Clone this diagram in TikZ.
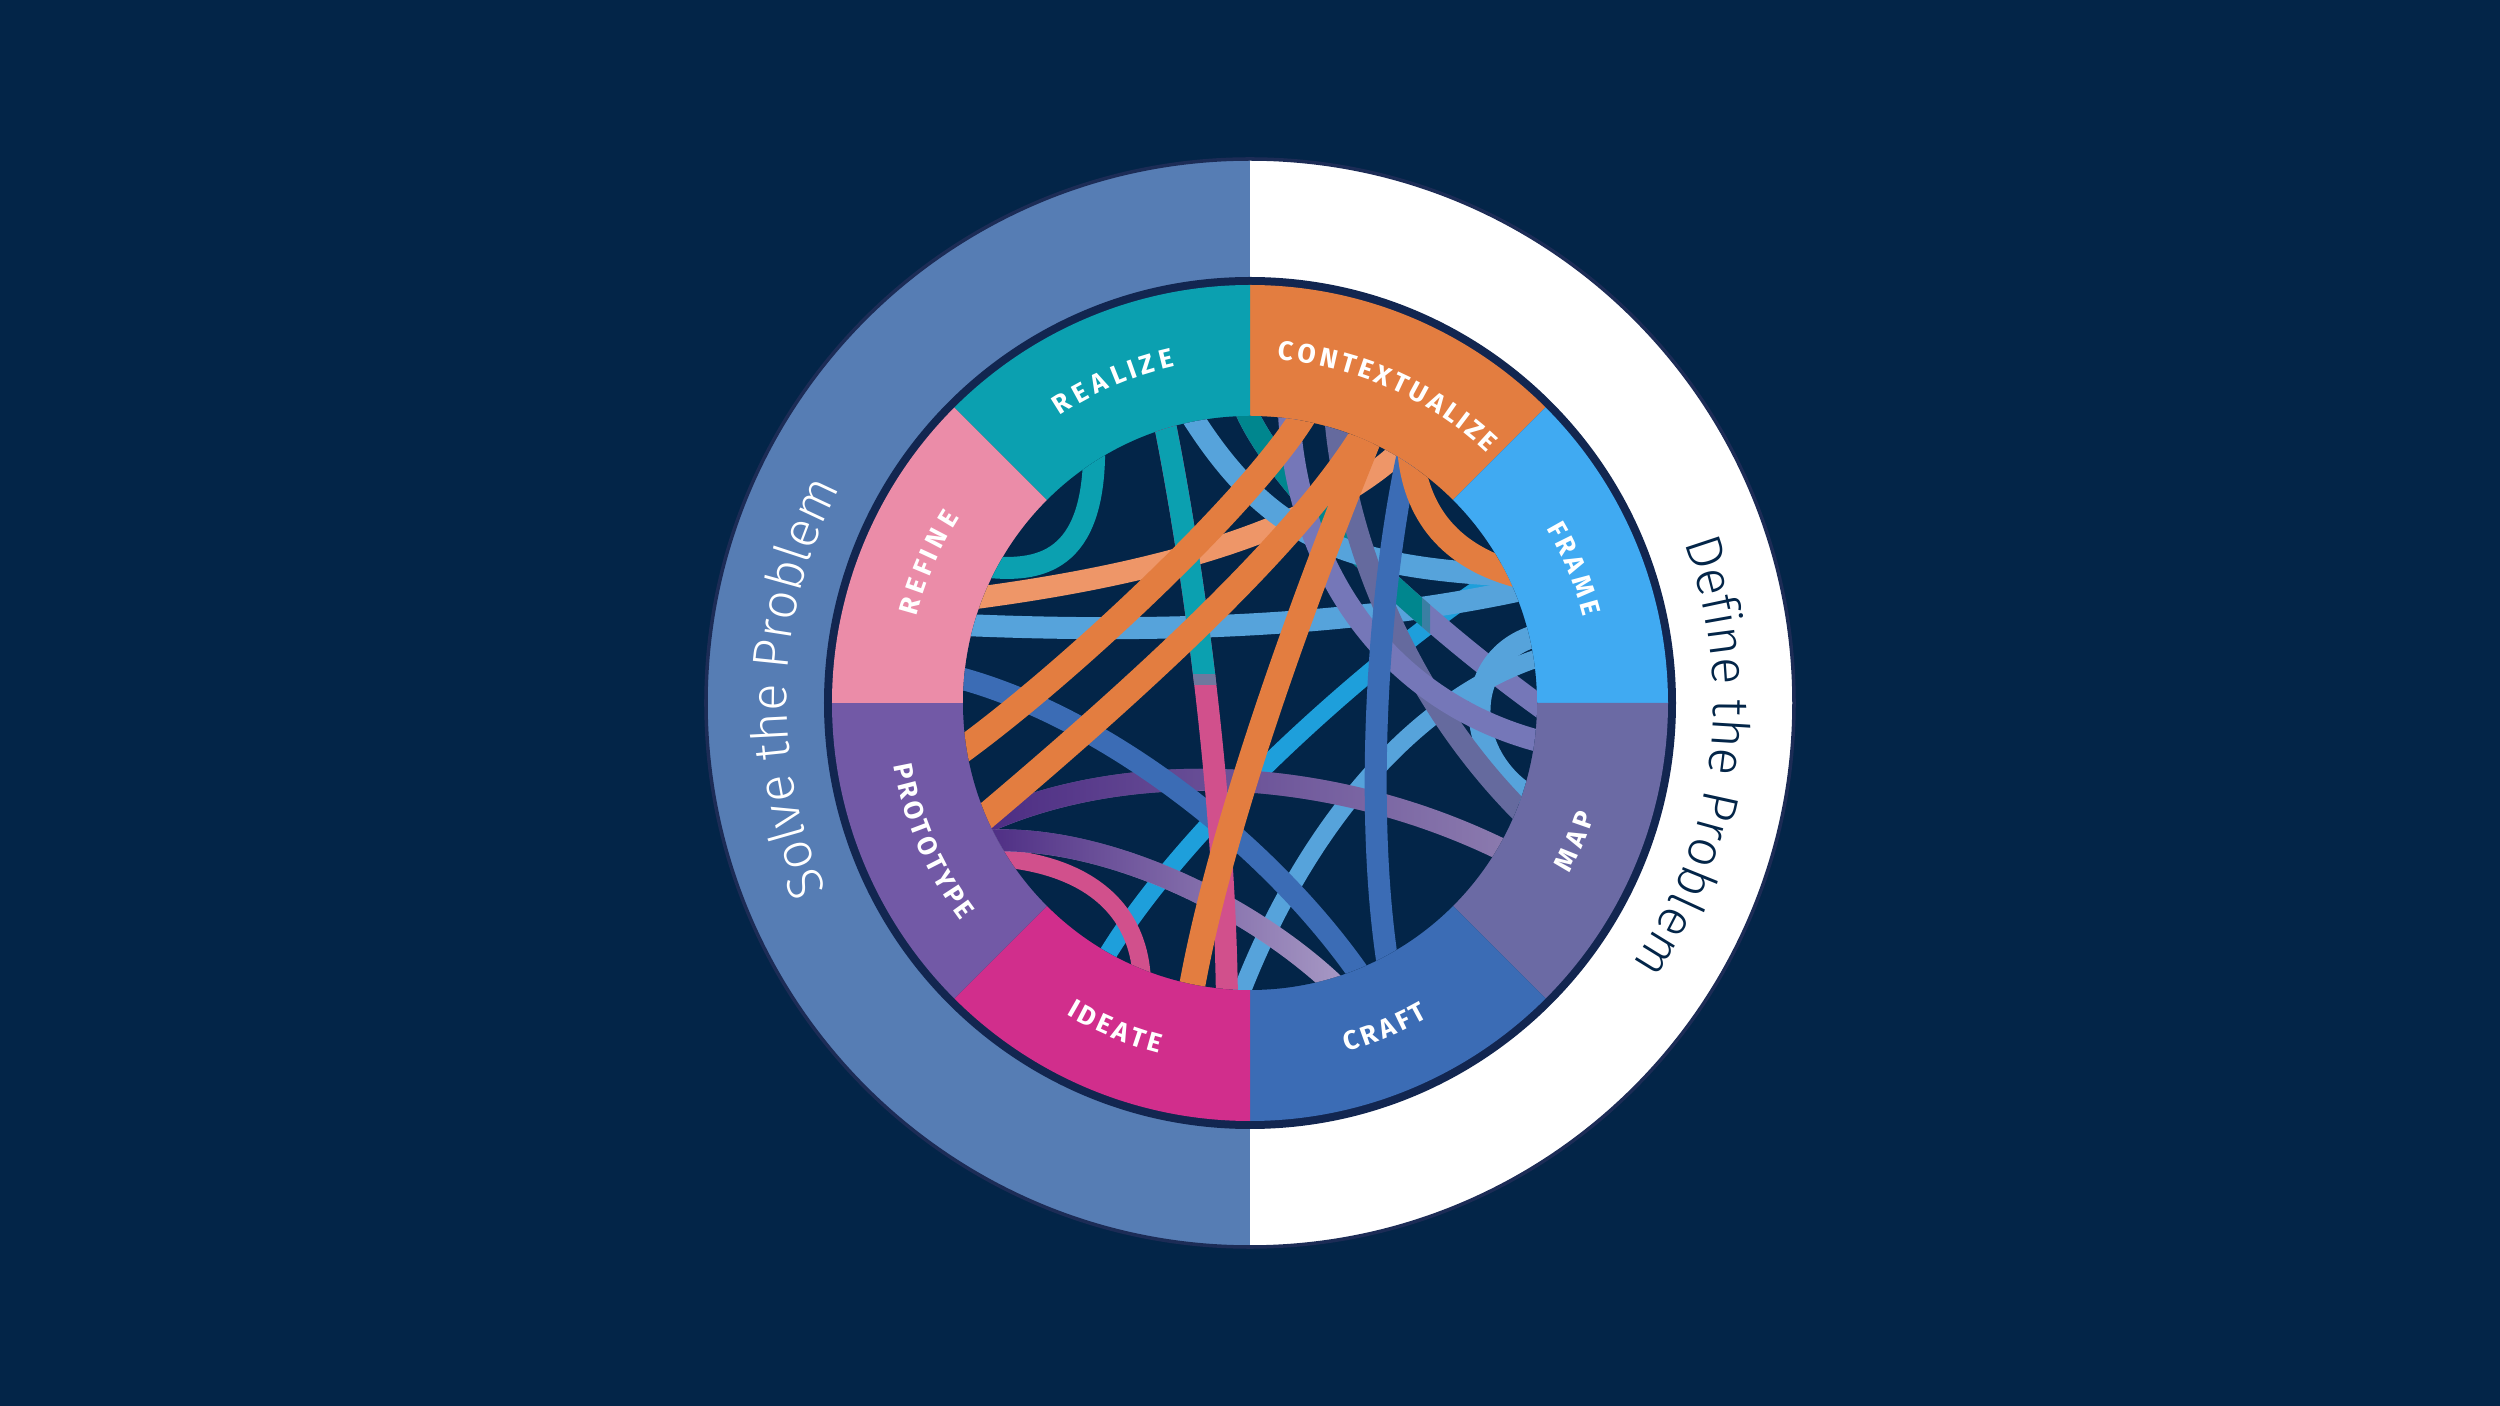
\documentclass[tikz,border=0pt]{standalone}
\usepackage{fontspec}
\usepackage{tikz}
\usetikzlibrary{decorations.text,fadings}
\IfFontExistsTF{Fira Sans Light}{\newfontfamily\ringfont{Fira Sans Light}}{\newfontfamily\ringfont{Fira Sans}}
\newfontfamily\segfont{Fira Sans}
\definecolor{navy}{RGB}{3,37,72}
\definecolor{rimnavy}{RGB}{18,38,80}
\definecolor{ringedge}{RGB}{28,44,86}
\definecolor{solveblue}{RGB}{86,125,180}
\definecolor{ctxorange}{RGB}{227,125,64}
\definecolor{framesky}{RGB}{64,170,242}
\definecolor{mapviolet}{RGB}{107,106,164}
\definecolor{craftblue}{RGB}{59,108,181}
\definecolor{ideatepink}{RGB}{209,46,140}
\definecolor{protopurple}{RGB}{114,89,166}
\definecolor{refinerose}{RGB}{235,140,168}
\definecolor{realizeteal}{RGB}{11,160,176}
\definecolor{salmon}{RGB}{238,150,104}
\definecolor{deepteal}{RGB}{0,134,142}
\definecolor{paleblue}{RGB}{86,163,219}
\definecolor{brightblue}{RGB}{30,159,219}
\definecolor{dusk}{RGB}{117,119,184}
\definecolor{slate}{RGB}{101,106,158}
\definecolor{rosepink}{RGB}{209,80,140}
\definecolor{plum}{RGB}{75,42,130}
\definecolor{lavender}{RGB}{141,125,176}
\definecolor{lilac}{RGB}{169,155,198}
\newcommand\tealpinkpath{(106.8:3) .. controls (-0.55,1.3) and (-0.25,-1.0) .. (265.6:3)}
\newcommand\tealduskpath{(91.4:3) .. controls (0.3,2.05) and (2.0,0.6) .. (-2:3)}
\newcommand\plumpath{(204.3:3) .. controls (-1.3,-0.55) and (0.8,-0.6) .. (-30.1:3)}
\newcommand\lilacpath{(207.4:3) .. controls (-1.5,-1.3) and (0.0,-2.0) .. (-72.7:3)}
\tikzset{
  ribbon/.style={draw=#1, line width=0.22cm},
  ribbon/.default={paleblue},
  thinribbon/.style={draw=#1, line width=0.18cm},
  fatribbon/.style={draw=#1, line width=0.26cm},
  fatribbon/.default={ctxorange},
  seglabel/.style={font=\segfont\bfseries\fontsize{7.6}{8}\selectfont, decorate,
    decoration={text effects along path, text={#1},
      text effects/.cd, text along path, fit text to path, characters={text=white}}},
  ringlabel/.style 2 args={decorate, decoration={text along path, text align=center, text color=#2,
    text={|\ringfont\fontsize{14.5}{16}\selectfont|#1}}}
}
\begin{document}
\begin{tikzpicture}
  \fill[navy] (-12.5,-7.03) rectangle (12.5,7.03);
  \useasboundingbox (-12.5,-7.03) rectangle (12.5,7.03);
  \fill[solveblue] (90:5.44) arc[start angle=90, end angle=270, radius=5.44] -- cycle;
  \fill[white] (-90:5.44) arc[start angle=-90, end angle=90, radius=5.44] -- cycle;
  \draw[ringedge, line width=1pt] (0,0) circle (5.44);
  \fill[rimnavy] (0,0) circle (4.26);
  \fill[ctxorange] (0,0) -- (90:4.18) arc[start angle=90, end angle=45, radius=4.18] -- cycle;
  \fill[framesky] (0,0) -- (45:4.18) arc[start angle=45, end angle=0, radius=4.18] -- cycle;
  \fill[mapviolet] (0,0) -- (0:4.18) arc[start angle=0, end angle=-45, radius=4.18] -- cycle;
  \fill[craftblue] (0,0) -- (-45:4.18) arc[start angle=-45, end angle=-90, radius=4.18] -- cycle;
  \fill[ideatepink] (0,0) -- (-90:4.18) arc[start angle=-90, end angle=-135, radius=4.18] -- cycle;
  \fill[protopurple] (0,0) -- (-135:4.18) arc[start angle=-135, end angle=-180, radius=4.18] -- cycle;
  \fill[refinerose] (0,0) -- (180:4.18) arc[start angle=180, end angle=135, radius=4.18] -- cycle;
  \fill[realizeteal] (0,0) -- (135:4.18) arc[start angle=135, end angle=90, radius=4.18] -- cycle;
  \fill[navy] (0,0) circle (2.87);

  \begin{scope}
    \clip (0,0) circle (2.87);
    \draw[thinribbon=brightblue] (27.5:3) .. controls (1.6,0.75) and (-0.6,-1.1) .. (240.4:3);
    \draw[ribbon] (164.9:3) .. controls (-1.0,0.7) and (1.0,0.75) .. (22.4:3);
    \draw[ribbon=salmon] (159.7:3) .. controls (-1.2,1.25) and (0.6,1.65) .. (58.8:3);
    \draw[ribbon=dusk] \tealduskpath;
    \begin{scope}
      \clip (-3,-3) rectangle (1.72,3.2);
      \draw[ribbon=deepteal] \tealduskpath;
    \end{scope}
    \begin{scope}
      \clip (1.72,-3) rectangle (1.80,3.2);
      \draw[ribbon=deepteal!50!dusk] \tealduskpath;
    \end{scope}
    \draw[ribbon] (102:3) .. controls (0.2,1.6) and (1.0,1.35) .. (25:3);
    \draw[ribbon] (13.3:3) .. controls (2.1,0.5) and (2.1,-0.55) .. (-18.7:3);
    \draw[thinribbon=paleblue] (9.1:3) .. controls (1.7,0.1) and (0.55,-1.2) .. (267.6:3);
    \draw[ribbon=slate] (73.5:3) .. controls (0.95,1.6) and (1.6,0.0) .. (-22.5:3);
    \draw[ribbon=dusk] (82.6:3) .. controls (0.45,1.2) and (1.5,-0.05) .. (-7.7:3);
    \draw[ribbon=realizeteal] (121.3:3) .. controls (-1.55,1.4) and (-2.1,1.3) .. (152.9:3);
    \draw[thinribbon=rosepink] (211:3) .. controls (-1.7,-1.6) and (-1.1,-2.0) .. (248.9:3);
    \draw[ribbon=lavender] \plumpath;
    \draw[ribbon=plum, path fading=east] \plumpath;
    \draw[ribbon=lilac] \lilacpath;
    \draw[ribbon=plum, path fading=east] \lilacpath;
    \draw[ribbon=craftblue] (174.8:3) .. controls (-1.5,-0.1) and (0.2,-1.4) .. (-67.7:3);
    \draw[ribbon=rosepink] \tealpinkpath;
    \begin{scope}
      \clip (-3,0.28) rectangle (3,3.2);
      \draw[ribbon=realizeteal] \tealpinkpath;
    \end{scope}
    \begin{scope}
      \clip (-3,0.18) rectangle (3,0.28);
      \draw[ribbon=realizeteal!50!rosepink] \tealpinkpath;
    \end{scope}
    \draw[ribbon=craftblue] (58:3) .. controls (1.25,1.0) and (1.15,-1.2) .. (-62.5:3);
    \draw[fatribbon] (78.9:3) .. controls (0.1,2.1) and (-1.8,0.3) .. (190.1:3);
    \draw[fatribbon] (66.9:3) .. controls (0.5,1.6) and (-1.3,0.0) .. (203.9:3);
    \draw[fatribbon] (65.9:3) .. controls (0.6,1.2) and (-0.3,-1.2) .. (258.5:3);
    \draw[fatribbon] (57.7:3) .. controls (1.65,1.9) and (2.0,1.45) .. (25.1:3);
  \end{scope}

  \path[seglabel=CONTEXTUALIZE] (85.5:3.445) arc[start angle=85.5, end angle=46.5, radius=3.445];
  \path[seglabel=FRAME] (30.5:3.445) arc[start angle=30.5, end angle=14.5, radius=3.445];
  \path[seglabel=REALIZE] (123.5:3.445) arc[start angle=123.5, end angle=102.5, radius=3.445];
  \path[seglabel=REFINE] (165.5:3.445) arc[start angle=165.5, end angle=147.5, radius=3.445];
  \path[seglabel=MAP] (-28:3.62) arc[start angle=-28, end angle=-18, radius=3.62];
  \path[seglabel=CRAFT] (-74.5:3.62) arc[start angle=-74.5, end angle=-60.5, radius=3.62];
  \path[seglabel=IDEATE] (-120.5:3.62) arc[start angle=-120.5, end angle=-104.5, radius=3.62];
  \path[seglabel=PROTOTYPE] (-170:3.62) arc[start angle=-170, end angle=-143, radius=3.62];

  \path[ringlabel={Solve the Problem}{white}] (250:4.63) arc[start angle=250, end angle=106, radius=4.63];
  \path[ringlabel={Define the Problem}{navy}] (60:4.63) arc[start angle=60, end angle=-74, radius=4.63];
\end{tikzpicture}
\end{document}
